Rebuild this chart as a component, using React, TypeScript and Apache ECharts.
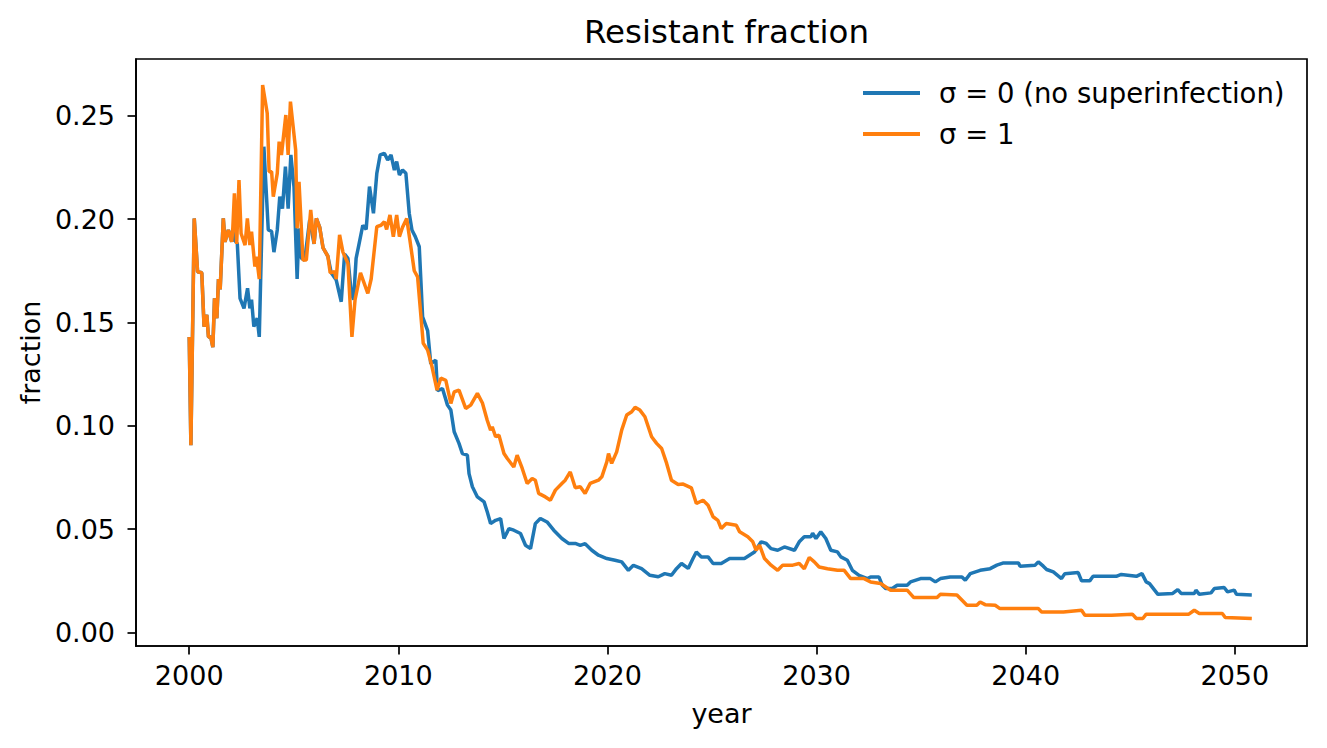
import React, { useEffect, useRef } from "react";
import * as echarts from "echarts";

const FONT = "DejaVu Sans, Liberation Sans, sans-serif";

const xTicks = [2000, 2010, 2020, 2030, 2040, 2050];
const yTicks = [0, 0.05, 0.1, 0.15, 0.2, 0.25];

const seriesNames = ["σ = 0 (no superinfection)", "σ = 1"];
const seriesColors = ["#1f77b4", "#ff7f0e"];

const blueYears = [
  2000.0, 2000.08, 2000.24, 2000.4, 2000.6, 2000.71, 2000.84, 2000.92, 2001.03, 2001.13,
  2001.21, 2001.32, 2001.4, 2001.48, 2001.63, 2001.71, 2001.87, 2002.03, 2002.08, 2002.16,
  2002.3, 2002.43, 2002.62, 2002.79, 2002.9, 2002.98, 2003.09, 2003.25, 2003.35, 2003.57,
  2003.78, 2003.94, 2004.05, 2004.21, 2004.33, 2004.46, 2004.6, 2004.73, 2004.86, 2005.01,
  2005.16, 2005.25, 2005.37, 2005.52, 2005.76, 2005.97, 2006.08, 2006.24, 2006.4, 2006.63,
  2006.79, 2007.03, 2007.27, 2007.43, 2007.59, 2007.75, 2007.86, 2007.98, 2008.11, 2008.3,
  2008.46, 2008.62, 2008.81, 2008.97, 2009.13, 2009.33, 2009.49, 2009.65, 2009.81, 2009.92,
  2010.05, 2010.2, 2010.36, 2010.52, 2010.65, 2010.81, 2011.0, 2011.16, 2011.4, 2011.55,
  2011.79, 2011.87, 2012.11, 2012.35, 2012.51, 2012.67, 2012.9, 2013.06, 2013.3, 2013.38,
  2013.54, 2013.78, 2014.1, 2014.25, 2014.41, 2014.65, 2014.89, 2015.05, 2015.29, 2015.52,
  2015.84, 2016.08, 2016.32, 2016.55, 2016.79, 2017.11, 2017.43, 2017.82, 2018.14, 2018.46,
  2018.7, 2018.93, 2019.25, 2019.57, 2019.97, 2020.36, 2020.68, 2021.0, 2021.24, 2021.63,
  2022.03, 2022.43, 2022.74, 2023.06, 2023.3, 2023.54, 2023.86, 2024.09, 2024.25, 2024.49,
  2024.81, 2025.05, 2025.44, 2025.84, 2026.55, 2026.79, 2027.03, 2027.35, 2027.59, 2027.82,
  2028.14, 2028.46, 2028.94, 2029.17, 2029.41, 2029.73, 2029.81, 2029.97, 2030.2, 2030.44,
  2030.68, 2031.0, 2031.16, 2031.47, 2031.71, 2032.03, 2032.43, 2032.58, 2032.98, 2033.14,
  2033.3, 2033.62, 2033.85, 2034.33, 2034.49, 2034.97, 2035.44, 2035.68, 2035.92, 2036.39,
  2036.95, 2037.11, 2037.35, 2037.82, 2038.3, 2038.62, 2038.94, 2039.65, 2039.73, 2040.45,
  2040.6, 2040.84, 2041.0, 2041.32, 2041.71, 2041.87, 2042.51, 2042.67, 2043.06, 2043.22,
  2044.33, 2044.57, 2045.29, 2045.56, 2045.76, 2045.92, 2046.32, 2047.03, 2047.27, 2047.43,
  2048.06, 2048.14, 2048.3, 2048.86, 2049.02, 2049.49, 2049.65, 2049.97, 2050.08, 2050.81,
];
const blueValues = [
  0.143, 0.0906, 0.2003, 0.1745, 0.174, 0.148, 0.1537, 0.143, 0.143, 0.138,
  0.1616, 0.152, 0.171, 0.166, 0.2003, 0.189, 0.1947, 0.189, 0.1947, 0.19,
  0.188, 0.1616, 0.1568, 0.1665, 0.1568, 0.161, 0.148, 0.152, 0.143, 0.235,
  0.1947, 0.194, 0.184, 0.1947, 0.2108, 0.205, 0.2253, 0.205, 0.231, 0.2156,
  0.171, 0.1955, 0.181, 0.18, 0.1995, 0.188, 0.2003, 0.196, 0.186, 0.182,
  0.174, 0.1705, 0.16, 0.183, 0.181, 0.164, 0.161, 0.181, 0.1874, 0.197,
  0.195, 0.2157, 0.2028, 0.2221, 0.231, 0.2318, 0.2286, 0.231, 0.2237, 0.2278,
  0.2213, 0.2237, 0.2221, 0.2028, 0.1947, 0.1915, 0.1866, 0.1527, 0.146, 0.13,
  0.1318, 0.117, 0.118, 0.11, 0.1076, 0.0971, 0.0915, 0.0866, 0.0858, 0.0769,
  0.0705, 0.0656, 0.0632, 0.0584, 0.0527, 0.0543, 0.0551, 0.0455, 0.0503, 0.0495,
  0.0479, 0.0422, 0.0406, 0.0527, 0.0552, 0.0535, 0.0495, 0.0455, 0.0431, 0.0431,
  0.0422, 0.043, 0.0398, 0.0374, 0.0358, 0.035, 0.0342, 0.0301, 0.0325, 0.0309,
  0.0277, 0.027, 0.0285, 0.0277, 0.0309, 0.0334, 0.031, 0.0358, 0.039, 0.0366,
  0.0366, 0.0334, 0.0334, 0.0358, 0.0358, 0.0374, 0.039, 0.0439, 0.0431, 0.0406,
  0.0398, 0.0414, 0.0398, 0.0439, 0.0463, 0.0463, 0.048, 0.0455, 0.0487, 0.0455,
  0.0398, 0.039, 0.0366, 0.035, 0.0301, 0.0277, 0.0261, 0.0269, 0.0269, 0.0229,
  0.0213, 0.0213, 0.0229, 0.0229, 0.0245, 0.0261, 0.0261, 0.0245, 0.0261, 0.0269,
  0.0269, 0.0253, 0.0285, 0.0301, 0.0309, 0.0326, 0.0337, 0.0337, 0.0321, 0.0326,
  0.0342, 0.0321, 0.0305, 0.0293, 0.0261, 0.0285, 0.029, 0.025, 0.025, 0.0272,
  0.0272, 0.0281, 0.0272, 0.0285, 0.0245, 0.0237, 0.0185, 0.0189, 0.0208, 0.0189,
  0.0189, 0.0205, 0.0185, 0.0192, 0.0213, 0.0218, 0.0197, 0.0205, 0.0185, 0.0182,
];

const orangeYears = [
  2000.0, 2000.08, 2000.24, 2000.4, 2000.6, 2000.71, 2000.84, 2000.92, 2001.03, 2001.13,
  2001.21, 2001.32, 2001.4, 2001.48, 2001.63, 2001.71, 2001.87, 2002.03, 2002.08, 2002.16,
  2002.27, 2002.38, 2002.48, 2002.67, 2002.78, 2002.9, 2002.98, 2003.14, 2003.22, 2003.35,
  2003.51, 2003.73, 2003.82, 2003.94, 2004.02, 2004.21, 2004.3, 2004.41, 2004.62, 2004.73,
  2004.84, 2005.09, 2005.16, 2005.25, 2005.44, 2005.6, 2005.81, 2005.97, 2006.08, 2006.24,
  2006.4, 2006.63, 2006.74, 2006.95, 2007.03, 2007.19, 2007.35, 2007.59, 2007.78, 2007.93,
  2008.19, 2008.54, 2008.7, 2008.97, 2009.17, 2009.33, 2009.44, 2009.6, 2009.76, 2009.92,
  2010.05, 2010.2, 2010.4, 2010.55, 2010.76, 2010.92, 2011.19, 2011.4, 2011.6, 2011.85,
  2012.03, 2012.27, 2012.51, 2012.67, 2012.9, 2013.22, 2013.46, 2013.78, 2014.02, 2014.25,
  2014.41, 2014.49, 2014.65, 2014.81, 2015.05, 2015.21, 2015.52, 2015.68, 2015.92, 2016.16,
  2016.4, 2016.55, 2016.71, 2017.03, 2017.27, 2017.51, 2017.82, 2017.98, 2018.22, 2018.46,
  2018.7, 2018.93, 2019.17, 2019.57, 2019.73, 2019.97, 2020.05, 2020.2, 2020.44, 2020.68,
  2020.92, 2021.16, 2021.32, 2021.55, 2021.79, 2022.11, 2022.35, 2022.59, 2022.83, 2023.06,
  2023.38, 2023.62, 2024.01, 2024.25, 2024.57, 2024.81, 2025.05, 2025.28, 2025.44, 2025.68,
  2026.16, 2026.32, 2026.71, 2026.95, 2027.11, 2027.27, 2027.51, 2027.82, 2028.14, 2028.38,
  2028.86, 2029.17, 2029.41, 2029.65, 2029.89, 2030.12, 2030.52, 2031.0, 2031.32, 2031.63,
  2032.27, 2032.58, 2033.06, 2033.54, 2034.33, 2034.65, 2035.76, 2035.92, 2036.71, 2037.19,
  2037.66, 2037.82, 2038.06, 2038.54, 2038.77, 2040.6, 2040.76, 2041.8, 2042.67, 2042.83,
  2044.1, 2045.1, 2045.29, 2045.6, 2045.76, 2047.8, 2048.06, 2048.3, 2049.4, 2049.54,
  2050.81,
];
const orangeValues = [
  0.143, 0.0906, 0.2003, 0.1745, 0.174, 0.148, 0.1537, 0.143, 0.143, 0.138,
  0.1616, 0.152, 0.171, 0.166, 0.2003, 0.189, 0.1947, 0.189, 0.1947, 0.2124,
  0.188, 0.2189, 0.193, 0.1874, 0.2003, 0.1874, 0.1939, 0.177, 0.1818, 0.171,
  0.2648, 0.2512, 0.2229, 0.2229, 0.2108, 0.2221, 0.2374, 0.231, 0.2503, 0.231,
  0.2568, 0.2334, 0.1955, 0.218, 0.1802, 0.1802, 0.2044, 0.188, 0.2003, 0.196,
  0.186, 0.182, 0.174, 0.1745, 0.171, 0.1923, 0.184, 0.1786, 0.143, 0.161,
  0.174, 0.164, 0.171, 0.1963, 0.197, 0.1987, 0.195, 0.202, 0.1915, 0.202,
  0.1915, 0.196, 0.2003, 0.19, 0.175, 0.172, 0.1399, 0.1366, 0.129, 0.1173,
  0.123, 0.122, 0.1108, 0.1164, 0.1173, 0.1084, 0.11, 0.1157, 0.111, 0.1027,
  0.0979, 0.0995, 0.0947, 0.0955, 0.0866, 0.0842, 0.0801, 0.0858, 0.0795, 0.0721,
  0.0745, 0.0737, 0.0673, 0.0656, 0.064, 0.0689, 0.0721, 0.0737, 0.0777, 0.07,
  0.0705, 0.0673, 0.0721, 0.0737, 0.0753, 0.0826, 0.0866, 0.0818, 0.0874, 0.0979,
  0.1052, 0.1068, 0.1089, 0.1076, 0.1044, 0.0947, 0.0915, 0.089, 0.0818, 0.0737,
  0.0716, 0.0718, 0.07, 0.0624, 0.064, 0.0616, 0.056, 0.0543, 0.0503, 0.0527,
  0.0519, 0.0487, 0.0463, 0.0439, 0.0398, 0.0423, 0.0358, 0.0326, 0.0301, 0.0326,
  0.0326, 0.0334, 0.0309, 0.0363, 0.0342, 0.0317, 0.0309, 0.0301, 0.0301, 0.0261,
  0.0261, 0.0245, 0.0237, 0.0205, 0.0205, 0.0169, 0.0169, 0.0185, 0.0182, 0.0132,
  0.0132, 0.0148, 0.0135, 0.0132, 0.0116, 0.0116, 0.01, 0.01, 0.0108, 0.0084,
  0.0084, 0.0089, 0.0068, 0.0068, 0.0089, 0.0089, 0.0108, 0.0092, 0.0092, 0.0073,
  0.0068,
];

const zip = (xs: number[], ys: number[]) => xs.map((x, i) => [x, ys[i]]);

export default function App() {
  const ref = useRef<HTMLDivElement>(null);

  useEffect(() => {
    if (!ref.current) return;
    const chart = echarts.init(ref.current, undefined, { renderer: "svg" });
    const axisText = { color: "#000", fontFamily: FONT, fontSize: 27 };
    chart.setOption({
      animation: false,
      backgroundColor: "#fff",
      textStyle: { fontFamily: FONT },
      title: {
        text: "Resistant fraction",
        left: 721.5,
        top: 10,
        textAlign: "center",
        textStyle: { color: "#000", fontFamily: FONT, fontSize: 32.5, fontWeight: "normal" },
      },
      legend: {
        orient: "vertical",
        left: 863,
        top: 78,
        padding: 0,
        itemWidth: 57,
        itemHeight: 4,
        itemGap: 11,
        icon: "rect",
        data: seriesNames,
        textStyle: {
          color: "#000",
          fontFamily: FONT,
          fontSize: 27.5,
          lineHeight: 30,
          padding: [0, 0, 0, 14],
        },
      },
      grid: {
        left: 136,
        right: 20,
        top: 59,
        bottom: 102,
        show: true,
        borderColor: "#000",
        borderWidth: 1.7,
        backgroundColor: "transparent",
      },
      xAxis: {
        type: "value",
        min: 1997.455,
        max: 2053.45,
        name: "year",
        nameLocation: "middle",
        nameGap: 54,
        nameTextStyle: axisText,
        splitLine: { show: false },
        axisLine: { show: true, onZero: false, lineStyle: { color: "#000", width: 1.7 } },
        axisTick: {
          show: true,
          length: 8.5,
          customValues: xTicks,
          lineStyle: { color: "#000", width: 1.7 },
        },
        axisLabel: {
          ...axisText,
          margin: 16,
          customValues: xTicks,
          formatter: (v: number) => String(Math.round(v)),
        },
      },
      yAxis: {
        type: "value",
        min: -0.0065,
        max: 0.2774,
        name: "fraction",
        nameLocation: "middle",
        nameGap: 92,
        nameRotate: 90,
        nameTextStyle: axisText,
        splitLine: { show: false },
        axisLine: { show: true, onZero: false, lineStyle: { color: "#000", width: 1.7 } },
        axisTick: {
          show: true,
          length: 8.5,
          customValues: yTicks,
          lineStyle: { color: "#000", width: 1.7 },
        },
        axisLabel: {
          ...axisText,
          margin: 21,
          customValues: yTicks,
          formatter: (v: number) => v.toFixed(2),
        },
      },
      series: [
        {
          name: seriesNames[0],
          type: "line",
          data: zip(blueYears, blueValues),
          showSymbol: false,
          symbol: "none",
          color: seriesColors[0],
          lineStyle: { width: 3.5, color: seriesColors[0] },
        },
        {
          name: seriesNames[1],
          type: "line",
          data: zip(orangeYears, orangeValues),
          showSymbol: false,
          symbol: "none",
          color: seriesColors[1],
          lineStyle: { width: 3.5, color: seriesColors[1] },
        },
      ],
    });
    return () => chart.dispose();
  }, []);

  return (
    <div
      ref={ref}
      style={{ position: "fixed", left: 0, top: 0, width: 1327, height: 748, background: "#fff" }}
    />
  );
}
